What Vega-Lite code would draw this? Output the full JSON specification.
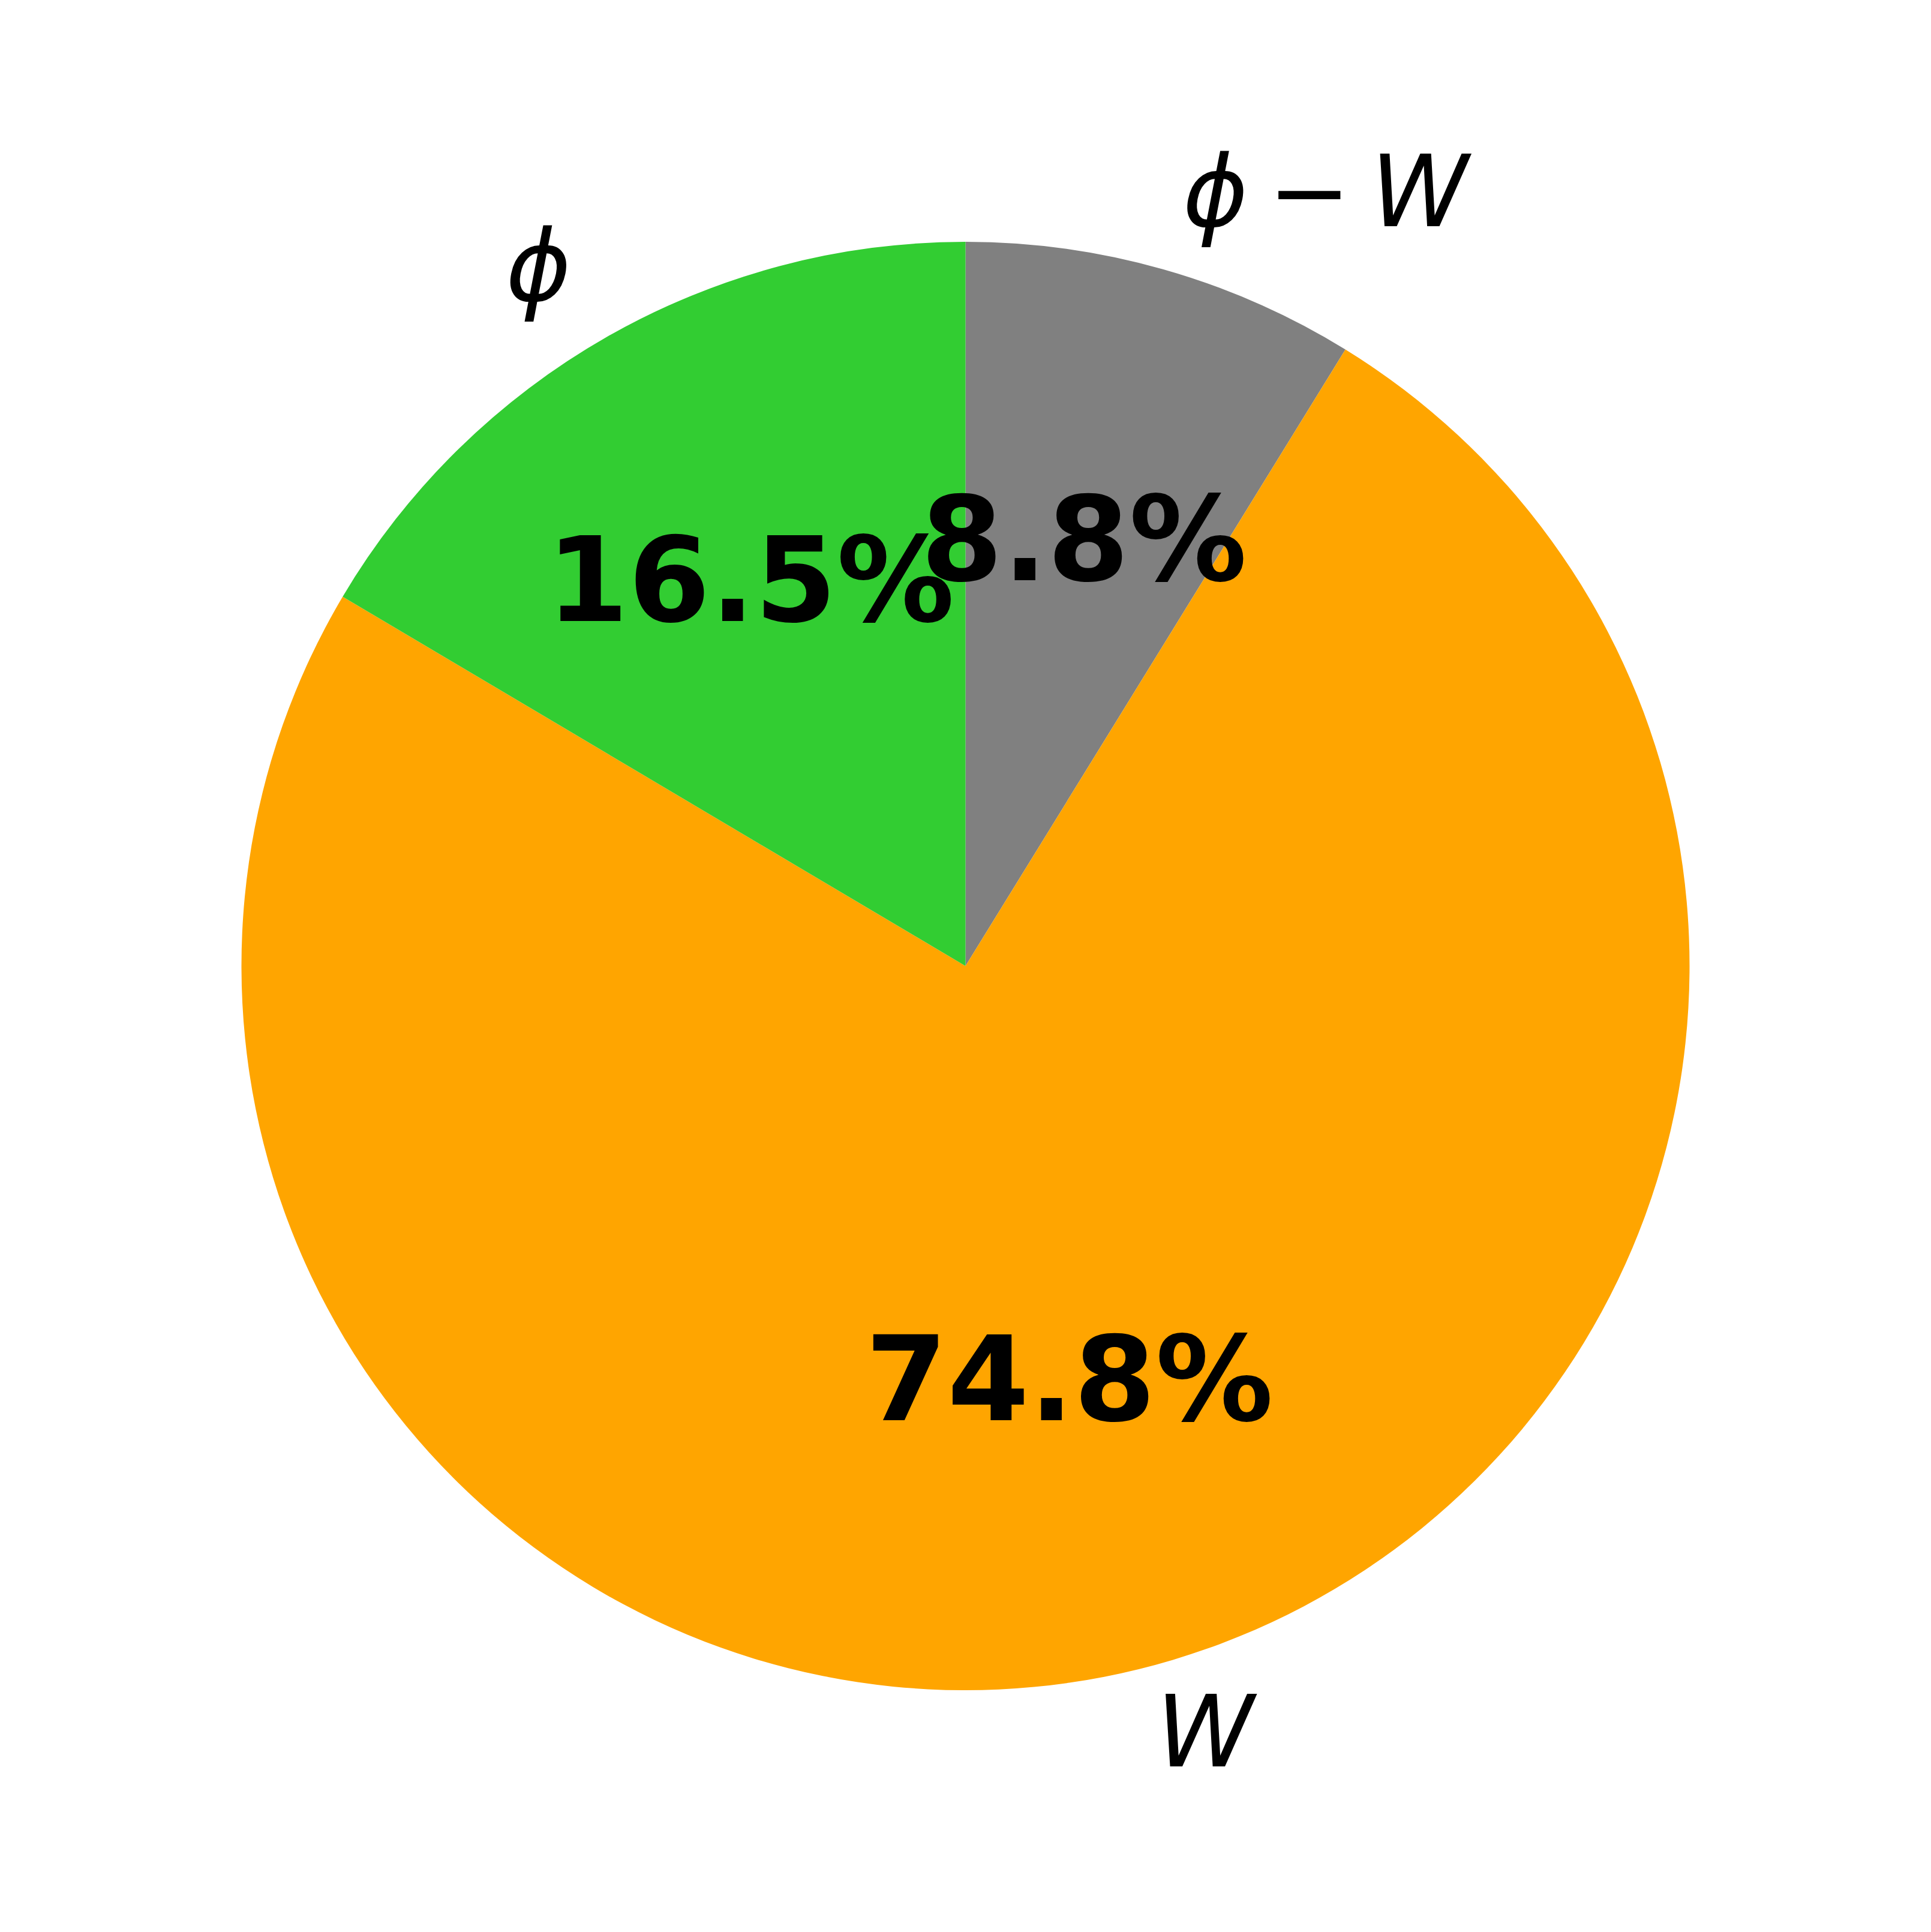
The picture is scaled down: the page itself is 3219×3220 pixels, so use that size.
{
  "$schema": "https://vega.github.io/schema/vega-lite/v6.json",
  "width": 3219,
  "height": 3220,
  "autosize": {"type": "fit", "contains": "padding"},
  "padding": 0,
  "background": "white",
  "config": {"view": {"stroke": null}},
  "data": {
    "values": [
      {"label": "ϕ\u2009−\u2009W", "pct": 8.8, "order": 1, "side": "right"},
      {"label": "W", "pct": 74.8, "order": 2, "side": "right"},
      {"label": "ϕ", "pct": 16.5, "order": 3, "side": "left"}
    ]
  },
  "transform": [
    {"calculate": "format(datum.pct, '.1f') + '%'", "as": "pctText"}
  ],
  "encoding": {
    "theta": {"field": "pct", "type": "quantitative", "stack": true},
    "order": {"field": "order", "type": "quantitative"}
  },
  "layer": [
    {
      "mark": {"type": "arc", "outerRadius": 1207, "stroke": null},
      "encoding": {
        "color": {
          "field": "label",
          "type": "nominal",
          "scale": {"domain": ["ϕ\u2009−\u2009W", "W", "ϕ"], "range": ["#808080", "#FFA500", "#32CD32"]},
          "legend": null
        }
      }
    },
    {
      "mark": {"type": "text", "radius": 724, "dy": -5, "font": "DejaVu Sans", "fontWeight": "bold", "fontSize": 196, "align": "center", "baseline": "middle", "color": "black"},
      "encoding": {"text": {"field": "pctText"}}
    },
    {
      "mark": {"type": "text", "radius": 1328, "dy": -5, "font": "DejaVu Sans", "fontStyle": "italic", "fontSize": 165, "align": "left", "baseline": "middle", "color": "black"},
      "encoding": {
        "text": {"condition": {"test": "datum.side === 'right'", "field": "label"}, "value": ""}
      }
    },
    {
      "mark": {"type": "text", "radius": 1328, "dy": -5, "font": "DejaVu Sans", "fontStyle": "italic", "fontSize": 165, "align": "right", "baseline": "middle", "color": "black"},
      "encoding": {
        "text": {"condition": {"test": "datum.side === 'left'", "field": "label"}, "value": ""}
      }
    }
  ]
}
